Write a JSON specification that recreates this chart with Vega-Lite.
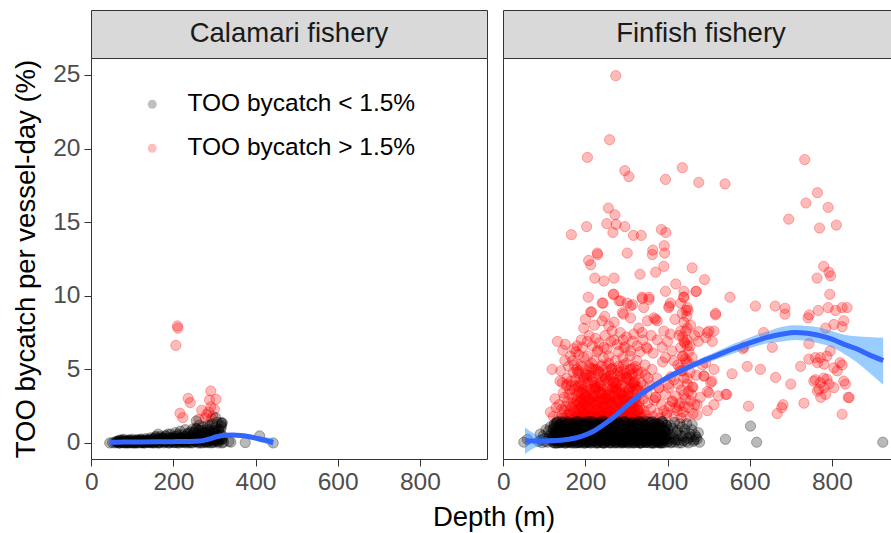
{
  "$schema": "https://vega.github.io/schema/vega-lite/v6.json",
  "padding": {"left": 12, "top": 9, "right": 0, "bottom": 0},
  "background": "white",
  "title": {"text": "Depth (m)", "orient": "bottom", "anchor": "middle", "frame": "group", "font": "Liberation Sans", "fontSize": 27.5, "fontWeight": "normal", "color": "#000000", "offset": 10, "dx": 403},
  "config": {
    "font": "Liberation Sans",
    "axis": {"labelFont": "Liberation Sans", "labelFontSize": 24.5, "labelColor": "#4D4D4D", "titleFont": "Liberation Sans", "titleFontSize": 27.5, "titleFontWeight": "normal", "titleColor": "#000000", "tickColor": "#333333", "tickSize": 7, "tickWidth": 1, "domain": false, "grid": false, "labelPadding": 3, "labelFlush": false},
    "legend": {"labelFont": "Liberation Sans", "labelFontSize": 24.5, "labelColor": "#000000", "labelLimit": 0, "symbolSize": 80, "symbolOpacity": 0.25, "symbolStrokeWidth": 0, "rowPadding": 19, "labelOffset": 23, "padding": 0}
  },
  "datasets": {
    "strip1": [{"lab": "Calamari fishery"}],
    "strip2": [{"lab": "Finfish fishery"}],
    "calLo": [{"d":45,"v":0},{"d":52,"v":0.02},{"d":58,"v":0},{"d":60,"v":0.1},{"d":63,"v":0.05},{"d":68,"v":0},{"d":72,"v":0.1},{"d":75,"v":0.05},{"d":77,"v":0.02},{"d":81,"v":0},{"d":85,"v":0.08},{"d":88,"v":0.02},{"d":90,"v":0.15},{"d":93,"v":0},{"d":97,"v":0.05},{"d":100,"v":0},{"d":101,"v":0.12},{"d":104,"v":0},{"d":108,"v":0.2},{"d":111,"v":0.04},{"d":112,"v":0.15},{"d":115,"v":0.1},{"d":118,"v":0},{"d":121,"v":0.25},{"d":124,"v":0.06},{"d":125,"v":0.02},{"d":127,"v":0.15},{"d":130,"v":0},{"d":133,"v":0.3},{"d":136,"v":0.08},{"d":138,"v":0.1},{"d":139,"v":0.18},{"d":142,"v":0.02},{"d":145,"v":0.35},{"d":148,"v":0.1},{"d":150,"v":0.05},{"d":151,"v":0.22},{"d":154,"v":0},{"d":157,"v":0.4},{"d":160,"v":0.12},{"d":162,"v":0},{"d":163,"v":0.28},{"d":166,"v":0.05},{"d":169,"v":0.45},{"d":172,"v":0.15},{"d":175,"v":0.3},{"d":175,"v":0.1},{"d":178,"v":0},{"d":181,"v":0.5},{"d":184,"v":0.2},{"d":187,"v":0.35},{"d":188,"v":0.2},{"d":190,"v":0.08},{"d":193,"v":0.6},{"d":195,"v":0.05},{"d":196,"v":0.25},{"d":199,"v":0.4},{"d":200,"v":0.15},{"d":202,"v":0.02},{"d":205,"v":0.7},{"d":208,"v":0.3},{"d":211,"v":0.5},{"d":212,"v":0},{"d":214,"v":0.1},{"d":215,"v":0.3},{"d":217,"v":0.8},{"d":220,"v":0.35},{"d":223,"v":0.55},{"d":225,"v":0.2},{"d":226,"v":0.05},{"d":229,"v":0.9},{"d":230,"v":0.1},{"d":232,"v":0.4},{"d":235,"v":0.65},{"d":237,"v":0.05},{"d":238,"v":0.15},{"d":240,"v":0.45},{"d":241,"v":0.75},{"d":244,"v":0.3},{"d":245,"v":0},{"d":247,"v":0.95},{"d":248,"v":0.2},{"d":250,"v":0.5},{"d":250,"v":0.75},{"d":253,"v":0.1},{"d":255,"v":0.3},{"d":256,"v":1.0},{"d":256,"v":1.5},{"d":259,"v":0.6},{"d":260,"v":0},{"d":260,"v":0.85},{"d":262,"v":0.25},{"d":265,"v":0.85},{"d":265,"v":0.1},{"d":268,"v":0.4},{"d":270,"v":0.6},{"d":271,"v":1.1},{"d":272,"v":0.2},{"d":274,"v":0.05},{"d":277,"v":0.7},{"d":280,"v":0.3},{"d":280,"v":0.02},{"d":283,"v":1.2},{"d":285,"v":0.1},{"d":285,"v":0.8},{"d":286,"v":0.55},{"d":289,"v":0.9},{"d":290,"v":0.4},{"d":292,"v":0.15},{"d":295,"v":1.3},{"d":295,"v":0.2},{"d":297,"v":0.02},{"d":298,"v":0.65},{"d":300,"v":0.2},{"d":301,"v":1.0},{"d":303,"v":1.72},{"d":304,"v":0.35},{"d":305,"v":0.6},{"d":307,"v":1.4},{"d":308,"v":0.1},{"d":310,"v":0.8},{"d":310,"v":0.45},{"d":313,"v":0.2},{"d":315,"v":0.9},{"d":316,"v":1.35},{"d":318,"v":0.25},{"d":318,"v":1.34},{"d":319,"v":0.5},{"d":319,"v":1.38},{"d":322,"v":0.05},{"d":335,"v":0.1},{"d":340,"v":0.05},{"d":375,"v":0.03},{"d":410,"v":0.48},{"d":443,"v":0},
      {"d":62,"v":0.05},{"d":66,"v":0.15},{"d":70,"v":0},{"d":74,"v":0.2},{"d":78,"v":0.1},{"d":82,"v":0.18},{"d":86,"v":0.02},{"d":90,"v":0.12},{"d":94,"v":0.2},{"d":98,"v":0.06},{"d":102,"v":0.05},{"d":106,"v":0.15},{"d":110,"v":0},{"d":114,"v":0.2},{"d":118,"v":0.1},{"d":122,"v":0.18},{"d":126,"v":0.02},{"d":130,"v":0.12},{"d":134,"v":0.2},{"d":138,"v":0.06},{"d":142,"v":0.05},{"d":146,"v":0.15},{"d":150,"v":0},{"d":154,"v":0.3},{"d":158,"v":0.1},{"d":162,"v":0.25},{"d":166,"v":0.02},{"d":170,"v":0.15},{"d":174,"v":0.35},{"d":178,"v":0.08},{"d":182,"v":0.05},{"d":186,"v":0.2},{"d":190,"v":0},{"d":194,"v":0.3},{"d":198,"v":0.1},{"d":202,"v":0.25},{"d":206,"v":0.02},{"d":210,"v":0.15},{"d":214,"v":0.35},{"d":218,"v":0.08},{"d":222,"v":0.05},{"d":226,"v":0.2},{"d":230,"v":0},{"d":234,"v":0.3},{"d":238,"v":0.1},{"d":242,"v":0.25},{"d":246,"v":0.02},{"d":250,"v":0.15},{"d":254,"v":0.35},{"d":258,"v":0.08},{"d":262,"v":0.5},{"d":266,"v":0.2},{"d":270,"v":0},{"d":274,"v":0.45},{"d":278,"v":0.1},{"d":282,"v":0.6},{"d":286,"v":0.02},{"d":290,"v":0.25},{"d":294,"v":0.75},{"d":298,"v":0.08},{"d":302,"v":0.4},{"d":306,"v":0.2},{"d":310,"v":0},{"d":314,"v":0.6},{"d":317,"v":1.1},{"d":320,"v":0.3},
      {"d":64,"v":0.1},{"d":67,"v":0},{"d":70,"v":0.2},{"d":73,"v":0.05},{"d":76,"v":0.15},{"d":79,"v":0.25},{"d":82,"v":0.02},{"d":85,"v":0.1},{"d":88,"v":0},{"d":91,"v":0.2},{"d":94,"v":0.05},{"d":97,"v":0.15},{"d":100,"v":0.25},{"d":103,"v":0.02},{"d":106,"v":0.1},{"d":109,"v":0},{"d":112,"v":0.2},{"d":115,"v":0.05},{"d":118,"v":0.15},{"d":121,"v":0.25},{"d":124,"v":0.02},{"d":127,"v":0.1},{"d":130,"v":0},{"d":133,"v":0.2},{"d":136,"v":0.05},{"d":139,"v":0.15},{"d":142,"v":0.25},{"d":145,"v":0.02},{"d":148,"v":0.1},
      {"d":151,"v":0.3},{"d":154,"v":0.05},{"d":157,"v":0.45},{"d":160,"v":0.15},{"d":163,"v":0.6},{"d":166,"v":0},{"d":169,"v":0.35},{"d":172,"v":0.2},{"d":175,"v":0.3},{"d":178,"v":0.05},{"d":181,"v":0.45},{"d":184,"v":0.15},{"d":187,"v":0.6},{"d":190,"v":0},{"d":193,"v":0.35},{"d":196,"v":0.2},{"d":199,"v":0.3},{"d":202,"v":0.05},{"d":205,"v":0.45},{"d":208,"v":0.15},{"d":211,"v":0.6},{"d":214,"v":0},{"d":217,"v":0.35},{"d":220,"v":0.2},{"d":223,"v":0.3},{"d":226,"v":0.05},{"d":229,"v":0.45},{"d":232,"v":0.15},{"d":235,"v":0.6},{"d":238,"v":0},{"d":241,"v":0.35},{"d":244,"v":0.2},{"d":247,"v":0.3},
      {"d":250,"v":0.7},{"d":253,"v":0.1},{"d":256,"v":0.95},{"d":259,"v":0.3},{"d":262,"v":1.2},{"d":265,"v":0},{"d":268,"v":0.5},{"d":271,"v":0.85},{"d":274,"v":0.2},{"d":277,"v":0.7},{"d":280,"v":0.1},{"d":283,"v":0.95},{"d":286,"v":0.3},{"d":289,"v":1.2},{"d":292,"v":0},{"d":295,"v":0.5},{"d":298,"v":0.85},{"d":301,"v":0.2},{"d":304,"v":0.7},{"d":307,"v":0.1},{"d":310,"v":0.95},{"d":313,"v":0.3},{"d":316,"v":1.2},{"d":319,"v":0}],
    "calHi": [{"d":210,"v":7.95},{"d":211,"v":7.8},{"d":206,"v":6.63},{"d":236,"v":3.03},{"d":241,"v":2.74},{"d":216,"v":2.02},{"d":223,"v":1.72},{"d":269,"v":2.22},{"d":291,"v":3.53},{"d":288,"v":2.92},{"d":304,"v":2.97},{"d":291,"v":2.45},{"d":281,"v":1.95},{"d":278,"v":1.7},{"d":286,"v":2.1},{"d":296,"v":1.8},{"d":300,"v":2.3},{"d":262,"v":1.6},{"d":293,"v":1.65}],
    "finLo": [{"d":50,"v":0.05},{"d":59,"v":0.25},{"d":541,"v":0.25},{"d":602,"v":1.15},{"d":617,"v":0.05},{"d":924,"v":0.05},{"d":86,"v":0.1},{"d":90,"v":0.6},{"d":95,"v":0.02},{"d":100,"v":0.3},{"d":104,"v":0.9},{"d":108,"v":0.05},{"d":112,"v":0.45},{"d":115,"v":1.1},{"d":118,"v":0.15},{"d":92,"v":0.2},{"d":98,"v":0.5},{"d":103,"v":0.1},{"d":110,"v":0.8},{"d":114,"v":0.3},{"d":117,"v":0.6},
      {"d":120,"v":0.05},{"d":121,"v":0.9},{"d":123,"v":0.4},{"d":124,"v":1.3},{"d":126,"v":0.15},{"d":127,"v":0.7},{"d":129,"v":1.1},{"d":130,"v":0},{"d":132,"v":0.55},{"d":133,"v":1.45},{"d":135,"v":0.25},{"d":136,"v":0.85},{"d":138,"v":0.02},{"d":139,"v":1.2},{"d":141,"v":0.6},{"d":142,"v":0.35},{"d":144,"v":1.0},{"d":145,"v":0.1},{"d":147,"v":1.4},{"d":148,"v":0.75},{"d":150,"v":0.2},{"d":151,"v":0.5},{"d":153,"v":1.25},{"d":154,"v":0},{"d":156,"v":0.95},{"d":157,"v":0.45},{"d":159,"v":1.35},{"d":160,"v":0.3},{"d":162,"v":0.65},{"d":163,"v":0.08},
      {"d":165,"v":0.05},{"d":166,"v":0.9},{"d":168,"v":0.4},{"d":169,"v":1.3},{"d":171,"v":0.15},{"d":172,"v":0.7},{"d":174,"v":1.1},{"d":175,"v":0},{"d":177,"v":0.55},{"d":178,"v":1.45},{"d":180,"v":0.25},{"d":181,"v":0.85},{"d":183,"v":0.02},{"d":184,"v":1.2},{"d":186,"v":0.6},{"d":187,"v":0.35},{"d":189,"v":1.0},{"d":190,"v":0.1},{"d":192,"v":1.4},{"d":193,"v":0.75},{"d":195,"v":0.2},{"d":196,"v":0.5},{"d":198,"v":1.25},{"d":199,"v":0},{"d":201,"v":0.95},{"d":202,"v":0.45},{"d":204,"v":1.35},{"d":205,"v":0.3},{"d":207,"v":0.65},{"d":208,"v":0.08},
      {"d":210,"v":0.7},{"d":211,"v":0},{"d":213,"v":1.15},{"d":214,"v":0.3},{"d":216,"v":1.45},{"d":217,"v":0.5},{"d":219,"v":0.1},{"d":220,"v":0.9},{"d":222,"v":1.3},{"d":223,"v":0.2},{"d":225,"v":0.6},{"d":226,"v":1.05},{"d":228,"v":0},{"d":229,"v":0.4},{"d":231,"v":1.4},{"d":232,"v":0.8},{"d":234,"v":0.15},{"d":235,"v":1.2},{"d":237,"v":0.35},{"d":238,"v":0.95},{"d":240,"v":0.05},{"d":241,"v":1.5},{"d":243,"v":0.55},{"d":244,"v":0.25},{"d":246,"v":1.1},{"d":247,"v":0},{"d":249,"v":0.85},{"d":250,"v":0.45},{"d":252,"v":1.3},{"d":253,"v":0.12},
      {"d":255,"v":0.9},{"d":256,"v":1.3},{"d":258,"v":0.2},{"d":259,"v":0.6},{"d":261,"v":1.05},{"d":262,"v":0},{"d":264,"v":0.4},{"d":265,"v":1.4},{"d":267,"v":0.8},{"d":268,"v":0.15},{"d":270,"v":1.2},{"d":271,"v":0.35},{"d":273,"v":0.95},{"d":274,"v":0.05},{"d":276,"v":1.5},{"d":277,"v":0.55},{"d":279,"v":0.25},{"d":280,"v":1.1},{"d":282,"v":0},{"d":283,"v":0.85},{"d":285,"v":0.45},{"d":286,"v":1.3},{"d":288,"v":0.12},{"d":289,"v":0.7},{"d":291,"v":0},{"d":292,"v":1.15},{"d":294,"v":0.3},{"d":295,"v":1.45},{"d":297,"v":0.5},{"d":298,"v":0.1},
      {"d":300,"v":0.08},{"d":301,"v":0.65},{"d":303,"v":0.3},{"d":304,"v":1.35},{"d":306,"v":0.45},{"d":307,"v":0.95},{"d":309,"v":0},{"d":310,"v":1.25},{"d":312,"v":0.5},{"d":313,"v":0.2},{"d":315,"v":0.75},{"d":316,"v":1.4},{"d":318,"v":0.1},{"d":319,"v":1.0},{"d":321,"v":0.35},{"d":322,"v":0.6},{"d":324,"v":1.2},{"d":325,"v":0.02},{"d":327,"v":0.85},{"d":328,"v":0.25},{"d":330,"v":1.45},{"d":331,"v":0.55},{"d":333,"v":0},{"d":334,"v":1.1},{"d":336,"v":0.7},{"d":337,"v":0.15},{"d":339,"v":1.3},{"d":340,"v":0.4},{"d":342,"v":0.9},{"d":343,"v":0.05},
      {"d":345,"v":0.25},{"d":346,"v":0.85},{"d":348,"v":0.02},{"d":349,"v":1.2},{"d":351,"v":0.6},{"d":352,"v":0.35},{"d":354,"v":1.0},{"d":355,"v":0.1},{"d":357,"v":1.4},{"d":358,"v":0.75},{"d":360,"v":0.2},{"d":361,"v":0.5},{"d":363,"v":1.25},{"d":364,"v":0},{"d":366,"v":0.95},{"d":367,"v":0.45},{"d":369,"v":1.35},{"d":370,"v":0.3},{"d":372,"v":0.65},{"d":373,"v":0.08},{"d":375,"v":0.05},{"d":376,"v":0.9},{"d":378,"v":0.4},{"d":379,"v":1.3},{"d":381,"v":0.15},{"d":382,"v":0.7},{"d":384,"v":1.1},{"d":385,"v":0},{"d":387,"v":0.55},{"d":388,"v":1.45},{"d":390,"v":0.25},{"d":392,"v":0},{"d":394,"v":0.8},{"d":396,"v":0.35},{"d":398,"v":1.2},
      {"d":402,"v":0.1},{"d":405,"v":0.6},{"d":408,"v":0},{"d":412,"v":1.0},{"d":415,"v":0.3},{"d":418,"v":0.05},{"d":422,"v":0.7},{"d":426,"v":0.2},{"d":430,"v":1.3},{"d":434,"v":0},{"d":438,"v":0.45},{"d":442,"v":0.9},{"d":446,"v":0.1},{"d":450,"v":0.3},{"d":455,"v":0.6},{"d":460,"v":1.25},{"d":465,"v":0.2},{"d":470,"v":0.4},{"d":475,"v":0.7},{"d":478,"v":0.05},
      {"d":125,"v":0},{"d":140,"v":0.02},{"d":155,"v":0.05},{"d":170,"v":0},{"d":185,"v":0.03},{"d":200,"v":0},{"d":215,"v":0.05},{"d":230,"v":0.02},{"d":245,"v":0},{"d":260,"v":0.03},{"d":275,"v":0},{"d":290,"v":0.05},{"d":305,"v":0},{"d":320,"v":0.02},{"d":335,"v":0},{"d":350,"v":0.04},{"d":365,"v":0},{"d":380,"v":0.02},
      {"d":121,"v":0.3},{"d":123,"v":1.0},{"d":125,"v":0.0},{"d":127,"v":0.6},{"d":129,"v":1.35},{"d":131,"v":0.15},{"d":133,"v":0.8},{"d":135,"v":0.45},{"d":137,"v":1.2},{"d":139,"v":0.05},{"d":141,"v":0.7},{"d":143,"v":1.45},{"d":145,"v":0.25},{"d":147,"v":0.95},{"d":149,"v":0.0},{"d":151,"v":0.55},{"d":153,"v":1.1},{"d":155,"v":0.35},{"d":157,"v":1.3},{"d":159,"v":0.1},
      {"d":161,"v":0.3},{"d":163,"v":1.0},{"d":165,"v":0.0},{"d":167,"v":0.6},{"d":169,"v":1.35},{"d":171,"v":0.15},{"d":173,"v":0.8},{"d":175,"v":0.45},{"d":177,"v":1.2},{"d":179,"v":0.05},{"d":181,"v":0.7},{"d":183,"v":1.45},{"d":185,"v":0.25},{"d":187,"v":0.95},{"d":189,"v":0.0},{"d":191,"v":0.55},{"d":193,"v":1.1},{"d":195,"v":0.35},{"d":197,"v":1.3},{"d":199,"v":0.1},
      {"d":201,"v":0.45},{"d":203,"v":1.2},{"d":205,"v":0.05},{"d":207,"v":0.7},{"d":209,"v":1.45},{"d":211,"v":0.25},{"d":213,"v":0.95},{"d":215,"v":0.0},{"d":217,"v":0.55},{"d":219,"v":1.1},{"d":221,"v":0.35},{"d":223,"v":1.3},{"d":225,"v":0.1},{"d":227,"v":0.3},{"d":229,"v":1.0},{"d":231,"v":0.0},{"d":233,"v":0.6},{"d":235,"v":1.35},{"d":237,"v":0.15},{"d":239,"v":0.8},
      {"d":241,"v":0.95},{"d":243,"v":0.0},{"d":245,"v":0.55},{"d":247,"v":1.1},{"d":249,"v":0.35},{"d":251,"v":1.3},{"d":253,"v":0.1},{"d":255,"v":0.3},{"d":257,"v":1.0},{"d":259,"v":0.0},{"d":261,"v":0.6},{"d":263,"v":1.35},{"d":265,"v":0.15},{"d":267,"v":0.8},{"d":269,"v":0.45},{"d":271,"v":1.2},{"d":273,"v":0.05},{"d":275,"v":0.7},{"d":277,"v":1.45},{"d":279,"v":0.25},
      {"d":281,"v":1.35},{"d":283,"v":0.15},{"d":285,"v":0.8},{"d":287,"v":0.45},{"d":289,"v":1.2},{"d":291,"v":0.05},{"d":293,"v":0.7},{"d":295,"v":1.45},{"d":297,"v":0.25},{"d":299,"v":0.95},{"d":301,"v":0.0},{"d":303,"v":0.55},{"d":305,"v":1.1},{"d":307,"v":0.35},{"d":309,"v":1.3},{"d":311,"v":0.1},{"d":313,"v":0.3},{"d":315,"v":1.0},{"d":317,"v":0.0},{"d":319,"v":0.6},
      {"d":321,"v":1.1},{"d":323,"v":0.35},{"d":325,"v":1.3},{"d":327,"v":0.1},{"d":329,"v":0.3},{"d":331,"v":1.0},{"d":333,"v":0.0},{"d":335,"v":0.6},{"d":337,"v":1.35},{"d":339,"v":0.15},{"d":341,"v":0.8},{"d":343,"v":0.45},{"d":345,"v":1.2},{"d":347,"v":0.05},{"d":349,"v":0.7},{"d":351,"v":1.45},{"d":353,"v":0.25},{"d":355,"v":0.95},{"d":357,"v":0.0},{"d":359,"v":0.55},
      {"d":361,"v":0.7},{"d":363,"v":1.45},{"d":365,"v":0.25},{"d":367,"v":0.95},{"d":369,"v":0.0},{"d":371,"v":0.55},{"d":373,"v":1.1},{"d":375,"v":0.35},{"d":377,"v":1.3},{"d":379,"v":0.1},{"d":381,"v":0.3},{"d":383,"v":1.0},{"d":385,"v":0.0},{"d":387,"v":0.6},{"d":389,"v":1.35},{"d":391,"v":0.15},{"d":393,"v":0.8},{"d":395,"v":0.45},{"d":397,"v":1.2},{"d":399,"v":0.05},
      {"d":401,"v":0.9},{"d":404,"v":0.3},{"d":407,"v":1.2},{"d":410,"v":0.05},{"d":413,"v":0.6},{"d":417,"v":1.4},{"d":420,"v":0.2},{"d":424,"v":0.85},{"d":427,"v":0.0},{"d":431,"v":0.5},{"d":435,"v":1.1},{"d":439,"v":0.15},{"d":443,"v":0.65},{"d":447,"v":1.3},{"d":451,"v":0.0},{"d":455,"v":0.4},{"d":459,"v":0.9},{"d":463,"v":0.1},{"d":467,"v":0.55},{"d":472,"v":0.25},
      {"d":122,"v":0.5},{"d":124,"v":1.15},{"d":126,"v":0.2},{"d":128,"v":0.85},{"d":130,"v":1.4},{"d":132,"v":0.0},{"d":134,"v":0.65},{"d":136,"v":1.05},{"d":138,"v":0.3},{"d":140,"v":1.3},{"d":142,"v":0.1},{"d":144,"v":0.75},{"d":146,"v":0.45},{"d":148,"v":1.2},{"d":150,"v":0.0},{"d":152,"v":0.95},{"d":154,"v":0.6},{"d":156,"v":1.45},{"d":158,"v":0.25},{"d":160,"v":0.05},{"d":162,"v":1.0},{"d":164,"v":0.4},{"d":166,"v":0.8},
      {"d":168,"v":0.5},{"d":170,"v":1.15},{"d":172,"v":0.2},{"d":174,"v":0.85},{"d":176,"v":1.4},{"d":178,"v":0.0},{"d":180,"v":0.65},{"d":182,"v":1.05},{"d":184,"v":0.3},{"d":186,"v":1.3},{"d":188,"v":0.1},{"d":190,"v":0.75},{"d":192,"v":0.45},{"d":194,"v":1.2},{"d":196,"v":0.0},{"d":198,"v":0.95},{"d":200,"v":0.6},{"d":202,"v":1.45},{"d":204,"v":0.25},{"d":206,"v":0.05},{"d":208,"v":1.0},{"d":210,"v":0.4},{"d":212,"v":0.8},
      {"d":214,"v":0.5},{"d":216,"v":1.15},{"d":218,"v":0.2},{"d":220,"v":0.85},{"d":222,"v":1.4},{"d":224,"v":0.0},{"d":226,"v":0.65},{"d":228,"v":1.05},{"d":230,"v":0.3},{"d":232,"v":1.3},{"d":234,"v":0.1},{"d":236,"v":0.75},{"d":238,"v":0.45},{"d":240,"v":1.2},{"d":242,"v":0.0},{"d":244,"v":0.95},{"d":246,"v":0.6},{"d":248,"v":1.45},{"d":250,"v":0.25},{"d":252,"v":0.05},{"d":254,"v":1.0},{"d":256,"v":0.4},{"d":258,"v":0.8},
      {"d":260,"v":0.5},{"d":262,"v":1.15},{"d":264,"v":0.2},{"d":266,"v":0.85},{"d":268,"v":1.4},{"d":270,"v":0.0},{"d":272,"v":0.65},{"d":274,"v":1.05},{"d":276,"v":0.3},{"d":278,"v":1.3},{"d":280,"v":0.1},{"d":282,"v":0.75},{"d":284,"v":0.45},{"d":286,"v":1.2},{"d":288,"v":0.0},{"d":290,"v":0.95},{"d":292,"v":0.6},{"d":294,"v":1.45},{"d":296,"v":0.25},{"d":298,"v":0.05},{"d":300,"v":1.0},{"d":302,"v":0.4},{"d":304,"v":0.8},
      {"d":306,"v":0.5},{"d":308,"v":1.15},{"d":310,"v":0.2},{"d":312,"v":0.85},{"d":314,"v":1.4},{"d":316,"v":0.0},{"d":318,"v":0.65},{"d":320,"v":1.05},{"d":322,"v":0.3},{"d":324,"v":1.3},{"d":326,"v":0.1},{"d":328,"v":0.75},{"d":330,"v":0.45},{"d":332,"v":1.2},{"d":334,"v":0.0},{"d":336,"v":0.95},{"d":338,"v":0.6},{"d":340,"v":1.45},{"d":342,"v":0.25},{"d":344,"v":0.05},{"d":346,"v":1.0},{"d":348,"v":0.4},{"d":350,"v":0.8},
      {"d":352,"v":0.5},{"d":354,"v":1.15},{"d":356,"v":0.2},{"d":358,"v":0.85},{"d":360,"v":1.4},{"d":362,"v":0.0},{"d":364,"v":0.65},{"d":366,"v":1.05},{"d":368,"v":0.3},{"d":370,"v":1.3},{"d":372,"v":0.1},{"d":374,"v":0.75},{"d":376,"v":0.45},{"d":378,"v":1.2},{"d":380,"v":0.0},{"d":382,"v":0.95},{"d":384,"v":0.6},{"d":386,"v":1.45},{"d":388,"v":0.25},{"d":390,"v":0.05},{"d":392,"v":1.0},{"d":394,"v":0.4},{"d":396,"v":0.8},{"d":398,"v":0.5}],
    "finHi": [
      {"d":175,"v":2.1},{"d":176,"v":4.3},{"d":177,"v":1.7},{"d":178,"v":3.2},{"d":179,"v":5.0},{"d":180,"v":2.6},{"d":181,"v":1.55},{"d":182,"v":3.8},{"d":183,"v":2.3},{"d":184,"v":4.7},{"d":185,"v":1.9},{"d":186,"v":3.5},{"d":187,"v":2.8},{"d":188,"v":1.6},{"d":189,"v":4.1},{"d":190,"v":2.45},{"d":191,"v":3.0},{"d":192,"v":5.2},{"d":193,"v":1.8},{"d":194,"v":3.65},{"d":195,"v":2.2},{"d":196,"v":4.5},{"d":197,"v":1.65},{"d":198,"v":2.9},{"d":199,"v":3.35},
      {"d":200,"v":2.3},{"d":201,"v":4.7},{"d":202,"v":1.9},{"d":203,"v":3.5},{"d":204,"v":2.8},{"d":205,"v":1.6},{"d":206,"v":4.1},{"d":207,"v":2.45},{"d":208,"v":3.0},{"d":209,"v":5.2},{"d":210,"v":1.8},{"d":211,"v":3.65},{"d":212,"v":2.2},{"d":213,"v":4.5},{"d":214,"v":1.65},{"d":215,"v":2.9},{"d":216,"v":3.35},{"d":217,"v":2.1},{"d":218,"v":4.3},{"d":219,"v":1.7},{"d":220,"v":3.2},{"d":221,"v":5.0},{"d":222,"v":2.6},{"d":223,"v":1.55},{"d":224,"v":3.8},
      {"d":225,"v":3.2},{"d":226,"v":5.0},{"d":227,"v":2.6},{"d":228,"v":1.55},{"d":229,"v":3.8},{"d":230,"v":2.3},{"d":231,"v":4.7},{"d":232,"v":1.9},{"d":233,"v":3.5},{"d":234,"v":2.8},{"d":235,"v":1.6},{"d":236,"v":4.1},{"d":237,"v":2.45},{"d":238,"v":3.0},{"d":239,"v":5.2},{"d":240,"v":1.8},{"d":241,"v":3.65},{"d":242,"v":2.2},{"d":243,"v":4.5},{"d":244,"v":1.65},{"d":245,"v":2.9},{"d":246,"v":3.35},{"d":247,"v":2.1},{"d":248,"v":4.3},{"d":249,"v":1.7},
      {"d":250,"v":2.45},{"d":251,"v":3.0},{"d":252,"v":5.2},{"d":253,"v":1.8},{"d":254,"v":3.65},{"d":255,"v":2.2},{"d":256,"v":4.5},{"d":257,"v":1.65},{"d":258,"v":2.9},{"d":259,"v":3.35},{"d":260,"v":2.1},{"d":261,"v":4.3},{"d":262,"v":1.7},{"d":263,"v":3.2},{"d":264,"v":5.0},{"d":265,"v":2.6},{"d":266,"v":1.55},{"d":267,"v":3.8},{"d":268,"v":2.3},{"d":269,"v":4.7},{"d":270,"v":1.9},{"d":271,"v":3.5},{"d":272,"v":2.8},{"d":273,"v":1.6},{"d":274,"v":4.1},
      {"d":275,"v":3.5},{"d":276,"v":2.8},{"d":277,"v":1.6},{"d":278,"v":4.1},{"d":279,"v":2.45},{"d":280,"v":3.0},{"d":281,"v":5.2},{"d":282,"v":1.8},{"d":283,"v":3.65},{"d":284,"v":2.2},{"d":285,"v":4.5},{"d":286,"v":1.65},{"d":287,"v":2.9},{"d":288,"v":3.35},{"d":289,"v":2.1},{"d":290,"v":4.3},{"d":291,"v":1.7},{"d":292,"v":3.2},{"d":293,"v":5.0},{"d":294,"v":2.6},{"d":295,"v":1.55},{"d":296,"v":3.8},{"d":297,"v":2.3},{"d":298,"v":4.7},{"d":299,"v":1.9},
      {"d":300,"v":2.2},{"d":301,"v":4.5},{"d":302,"v":1.65},{"d":303,"v":2.9},{"d":304,"v":3.35},{"d":305,"v":2.1},{"d":306,"v":4.3},{"d":307,"v":1.7},{"d":308,"v":3.2},{"d":309,"v":5.0},{"d":310,"v":2.6},{"d":311,"v":1.55},{"d":312,"v":3.8},{"d":313,"v":2.3},{"d":314,"v":4.7},{"d":315,"v":1.9},{"d":316,"v":3.5},{"d":317,"v":2.8},{"d":318,"v":1.6},{"d":319,"v":4.1},{"d":320,"v":2.45},{"d":321,"v":3.0},{"d":322,"v":5.2},{"d":323,"v":1.8},{"d":324,"v":3.65},
      {"d":325,"v":2.6},{"d":326,"v":1.55},{"d":327,"v":3.8},{"d":328,"v":2.3},{"d":329,"v":4.7},{"d":330,"v":1.9},
      {"d":160,"v":1.6},{"d":163,"v":2.5},{"d":166,"v":1.9},{"d":169,"v":3.1},{"d":172,"v":2.2},{"d":175,"v":1.55},{"d":178,"v":2.8},{"d":181,"v":2.0},{"d":184,"v":3.4},{"d":187,"v":1.75},{"d":190,"v":2.35},{"d":193,"v":2.95},{"d":196,"v":1.65},{"d":199,"v":2.65},{"d":202,"v":3.2},{"d":205,"v":1.85},{"d":208,"v":2.15},{"d":211,"v":1.6},{"d":214,"v":2.5},{"d":217,"v":1.9},{"d":220,"v":3.1},{"d":223,"v":2.2},{"d":226,"v":1.55},{"d":229,"v":2.8},{"d":232,"v":2.0},{"d":235,"v":3.4},{"d":238,"v":1.75},{"d":241,"v":2.35},{"d":244,"v":2.95},{"d":247,"v":1.65},{"d":250,"v":2.65},{"d":253,"v":3.2},{"d":256,"v":1.85},{"d":259,"v":2.15},{"d":262,"v":1.6},{"d":265,"v":2.5},{"d":268,"v":1.9},{"d":271,"v":3.1},{"d":274,"v":2.2},{"d":277,"v":1.55},{"d":280,"v":2.8},{"d":283,"v":2.0},{"d":286,"v":3.4},{"d":289,"v":1.75},{"d":292,"v":2.35},{"d":295,"v":2.95},{"d":298,"v":1.65},{"d":301,"v":2.65},{"d":304,"v":3.2},{"d":307,"v":1.85},{"d":310,"v":2.15},{"d":313,"v":1.6},{"d":316,"v":2.5},{"d":319,"v":1.9},{"d":322,"v":3.1},{"d":325,"v":2.2},{"d":328,"v":1.55},{"d":331,"v":2.8},{"d":334,"v":2.0},{"d":337,"v":3.4},{"d":340,"v":1.75},
      {"d":185,"v":2.7},{"d":188,"v":1.7},{"d":191,"v":4.0},{"d":194,"v":2.1},{"d":197,"v":3.3},{"d":200,"v":1.6},{"d":203,"v":4.6},{"d":206,"v":2.4},{"d":209,"v":3.0},{"d":212,"v":1.9},{"d":215,"v":5.4},{"d":218,"v":2.9},{"d":221,"v":1.75},{"d":224,"v":3.7},{"d":227,"v":2.7},{"d":230,"v":1.7},{"d":233,"v":4.0},{"d":236,"v":2.1},{"d":239,"v":3.3},{"d":242,"v":1.6},{"d":245,"v":4.6},{"d":248,"v":2.4},{"d":251,"v":3.0},{"d":254,"v":1.9},{"d":257,"v":5.4},{"d":260,"v":2.9},{"d":263,"v":1.75},{"d":266,"v":3.7},{"d":269,"v":2.7},{"d":272,"v":1.7},{"d":275,"v":4.0},{"d":278,"v":2.1},{"d":281,"v":3.3},{"d":284,"v":1.6},{"d":287,"v":4.6},{"d":290,"v":2.4},{"d":293,"v":3.0},{"d":296,"v":1.9},{"d":299,"v":5.4},{"d":302,"v":2.9},{"d":305,"v":1.75},{"d":308,"v":3.7},{"d":311,"v":2.7},{"d":314,"v":1.7},{"d":317,"v":4.0},{"d":320,"v":2.1},
      {"d":176,"v":3.9},{"d":179,"v":1.8},{"d":181,"v":2.9},{"d":184,"v":4.9},{"d":186,"v":2.2},{"d":189,"v":1.6},{"d":191,"v":3.4},{"d":194,"v":2.6},{"d":196,"v":5.8},{"d":199,"v":1.95},{"d":201,"v":3.1},{"d":204,"v":4.4},{"d":206,"v":2.35},{"d":209,"v":1.7},{"d":211,"v":3.6},{"d":214,"v":2.75},{"d":216,"v":5.0},{"d":219,"v":2.05},{"d":221,"v":4.1},{"d":224,"v":3.9},{"d":226,"v":1.8},{"d":229,"v":2.9},{"d":231,"v":4.9},{"d":234,"v":2.2},{"d":236,"v":1.6},{"d":239,"v":3.4},{"d":241,"v":2.6},{"d":244,"v":5.8},{"d":246,"v":1.95},{"d":249,"v":3.1},{"d":251,"v":4.4},{"d":254,"v":2.35},{"d":256,"v":1.7},{"d":259,"v":3.6},{"d":261,"v":2.75},{"d":264,"v":5.0},{"d":266,"v":2.05},{"d":269,"v":4.1},{"d":271,"v":3.9},{"d":274,"v":1.8},{"d":276,"v":2.9},{"d":279,"v":4.9},{"d":281,"v":2.2},{"d":284,"v":1.6},{"d":286,"v":3.4},{"d":289,"v":2.6},{"d":291,"v":5.8},{"d":294,"v":1.95},{"d":296,"v":3.1},{"d":299,"v":4.4},{"d":301,"v":2.35},{"d":304,"v":1.7},{"d":306,"v":3.6},{"d":309,"v":2.75},{"d":311,"v":5.0},{"d":314,"v":2.05},{"d":316,"v":4.1},{"d":319,"v":3.9},{"d":321,"v":1.8},{"d":324,"v":2.9},{"d":326,"v":4.9},{"d":329,"v":2.2},
      {"d":142,"v":2.3},{"d":146,"v":1.7},{"d":149,"v":3.1},{"d":153,"v":2.5},{"d":155,"v":4.4},{"d":158,"v":1.9},{"d":160,"v":3.3},{"d":163,"v":2.0},{"d":166,"v":3.9},{"d":168,"v":1.6},{"d":171,"v":2.7},{"d":173,"v":5.3},{"d":150,"v":5.6},{"d":144,"v":4.1},
      {"d":165,"v":4.2},{"d":169,"v":5.6},{"d":173,"v":3.6},{"d":177,"v":6.2},{"d":181,"v":4.8},{"d":185,"v":3.9},{"d":189,"v":5.3},{"d":193,"v":6.5},{"d":197,"v":4.4},{"d":201,"v":3.7},{"d":205,"v":5.9},{"d":209,"v":4.6},{"d":213,"v":5.1},{"d":217,"v":4.2},{"d":221,"v":5.6},{"d":225,"v":3.6},{"d":229,"v":6.2},{"d":233,"v":4.8},{"d":237,"v":3.9},{"d":241,"v":5.3},{"d":245,"v":6.5},{"d":249,"v":4.4},{"d":253,"v":3.7},{"d":257,"v":5.9},{"d":261,"v":4.6},{"d":265,"v":5.1},{"d":269,"v":4.2},{"d":273,"v":5.6},{"d":277,"v":3.6},{"d":281,"v":6.2},{"d":285,"v":4.8},{"d":289,"v":3.9},{"d":293,"v":5.3},{"d":297,"v":6.5},{"d":301,"v":4.4},{"d":305,"v":3.7},{"d":309,"v":5.9},{"d":313,"v":4.6},{"d":317,"v":5.1},{"d":321,"v":4.2},{"d":325,"v":5.6},{"d":329,"v":3.6},{"d":333,"v":6.2},{"d":337,"v":4.8},{"d":341,"v":3.9},{"d":345,"v":5.3},{"d":349,"v":6.5},{"d":353,"v":4.4},
      {"d":332,"v":2.4},{"d":335,"v":4.1},{"d":338,"v":1.7},{"d":341,"v":3.0},{"d":343,"v":2.2},{"d":346,"v":4.6},{"d":348,"v":1.9},{"d":350,"v":3.4},{"d":352,"v":2.7},{"d":355,"v":1.6},{"d":357,"v":3.9},{"d":359,"v":2.3},{"d":362,"v":5.0},{"d":365,"v":1.8},{"d":368,"v":2.9},{"d":371,"v":3.1},{"d":374,"v":4.4},{"d":376,"v":2.0},{"d":379,"v":3.75},{"d":382,"v":1.7},{"d":385,"v":2.6},{"d":388,"v":5.5},{"d":391,"v":2.2},{"d":395,"v":3.3},{"d":398,"v":1.9},{"d":402,"v":4.0},{"d":405,"v":2.5},
      {"d":115,"v":2.1},{"d":119,"v":5.0},{"d":122,"v":1.8},{"d":126,"v":3.0},{"d":129,"v":2.4},{"d":133,"v":1.6},{"d":136,"v":2.6},{"d":138,"v":4.2},{"d":140,"v":4.9},{"d":143,"v":1.9},{"d":146,"v":3.4},{"d":148,"v":2.2},{"d":151,"v":6.7},{"d":152,"v":1.7},{"d":154,"v":3.9},{"d":156,"v":4.0},{"d":157,"v":2.8},{"d":159,"v":5.2},{"d":161,"v":2.1},{"d":162,"v":3.6},{"d":164,"v":5.9},{"d":167,"v":2.4},{"d":170,"v":4.8},{"d":172,"v":6.4},{"d":184,"v":6.0},{"d":145,"v":6.3},{"d":132,"v":6.9},
      {"d":196,"v":7.8},{"d":209,"v":7.3},{"d":217,"v":6.6},{"d":233,"v":6.8},{"d":241,"v":8.3},{"d":253,"v":6.4},{"d":257,"v":7.95},{"d":265,"v":7.6},{"d":278,"v":6.7},{"d":294,"v":6.5},{"d":310,"v":6.25},{"d":326,"v":6.6},{"d":330,"v":7.8},{"d":338,"v":7.5},{"d":351,"v":8.3},{"d":351,"v":6.4},{"d":371,"v":8.4},{"d":375,"v":7.0},{"d":387,"v":6.5},{"d":395,"v":5.8},{"d":411,"v":6.25},{"d":213,"v":8.9},{"d":241,"v":9.5},{"d":269,"v":10.1},{"d":282,"v":9.65},{"d":302,"v":9.5},{"d":310,"v":9.3},{"d":338,"v":9.9},{"d":355,"v":9.9},{"d":342,"v":9.2},{"d":367,"v":8.5},{"d":375,"v":8.3},{"d":290,"v":8.85},{"d":310,"v":8.5},{"d":225,"v":7.1},{"d":248,"v":7.3},{"d":270,"v":7.0},{"d":285,"v":7.5},{"d":300,"v":7.2},{"d":318,"v":7.4},{"d":230,"v":6.3},{"d":262,"v":6.9},{"d":292,"v":7.0},{"d":315,"v":6.9},{"d":205,"v":6.9},{"d":190,"v":7.0},{"d":180,"v":6.6},{"d":270,"v":8.2},{"d":247,"v":8.6},{"d":222,"v":8.0},{"d":340,"v":7.0},{"d":360,"v":7.3},{"d":365,"v":6.1},{"d":200,"v":8.4},
      {"d":274,"v":24.95},{"d":259,"v":20.6},{"d":205,"v":19.4},{"d":296,"v":18.5},{"d":306,"v":18.1},{"d":436,"v":18.7},{"d":395,"v":17.9},{"d":476,"v":17.7},{"d":540,"v":17.6},{"d":734,"v":19.25},{"d":765,"v":17.0},{"d":737,"v":16.3},{"d":791,"v":16.0},{"d":695,"v":15.2},{"d":770,"v":14.6},{"d":811,"v":14.8},{"d":256,"v":15.96},{"d":272,"v":15.5},{"d":275,"v":14.85},{"d":252,"v":14.9},{"d":203,"v":14.7},{"d":166,"v":14.15},{"d":267,"v":14.3},{"d":296,"v":14.7},{"d":317,"v":14.1},{"d":336,"v":14.1},{"d":385,"v":14.5},{"d":396,"v":14.3},{"d":392,"v":13.4},{"d":393,"v":12.9},{"d":364,"v":13.1},{"d":302,"v":12.9},{"d":229,"v":12.9},{"d":230,"v":12.8},{"d":208,"v":12.4},{"d":363,"v":12.8},{"d":213,"v":12.1},{"d":223,"v":11.2},{"d":245,"v":11.0},{"d":270,"v":11.2},{"d":333,"v":11.46},{"d":371,"v":11.6},{"d":391,"v":12.0},{"d":460,"v":11.9},{"d":490,"v":11.1},{"d":420,"v":10.8},{"d":440,"v":10.3},{"d":469,"v":10.3},{"d":395,"v":10.3},{"d":207,"v":9.9},{"d":268,"v":10.1},{"d":243,"v":9.5},{"d":286,"v":9.65},{"d":315,"v":9.4},{"d":339,"v":9.8},{"d":355,"v":9.75},{"d":404,"v":9.3},{"d":445,"v":9.0},{"d":517,"v":8.8},{"d":552,"v":9.9},{"d":614,"v":9.3},{"d":662,"v":9.3},{"d":686,"v":9.15},{"d":686,"v":8.75},{"d":215,"v":8.9},{"d":293,"v":8.75},
      {"d":432,"v":9.5},{"d":436,"v":8.8},{"d":440,"v":8.2},{"d":444,"v":7.6},{"d":448,"v":7.0},{"d":432,"v":6.5},{"d":452,"v":6.2},{"d":438,"v":5.9},{"d":446,"v":5.5},{"d":430,"v":5.1},{"d":455,"v":4.8},{"d":440,"v":4.4},{"d":448,"v":4.0},{"d":434,"v":3.6},{"d":458,"v":3.3},{"d":444,"v":3.0},{"d":430,"v":2.7},{"d":452,"v":2.4},{"d":438,"v":2.1},{"d":446,"v":1.8},{"d":456,"v":8.0},{"d":428,"v":7.3},{"d":442,"v":6.8},{"d":450,"v":9.0},{"d":436,"v":4.9},{"d":460,"v":5.8},{"d":426,"v":4.0},{"d":462,"v":3.8},{"d":424,"v":2.2},{"d":466,"v":2.6},{"d":420,"v":3.2},{"d":470,"v":4.6},{"d":415,"v":5.6},{"d":475,"v":6.9},{"d":418,"v":8.4},{"d":466,"v":7.3},{"d":412,"v":2.8},{"d":472,"v":1.9},{"d":408,"v":4.5},{"d":480,"v":3.1},{"d":400,"v":6.9},{"d":485,"v":5.3},{"d":448,"v":4.4},{"d":443,"v":5.7},{"d":437,"v":7.2},{"d":451,"v":3.5},{"d":441,"v":2.5},{"d":433,"v":1.7},{"d":447,"v":8.6},{"d":439,"v":9.9},{"d":416,"v":1.8},{"d":428,"v":2.5},{"d":462,"v":2.0},{"d":455,"v":6.6},{"d":425,"v":5.3},
      {"d":448,"v":6.6},{"d":436,"v":5.9},{"d":452,"v":5.45},{"d":432,"v":4.9},{"d":460,"v":3.8},{"d":440,"v":3.3},{"d":456,"v":2.85},{"d":472,"v":2.6},{"d":489,"v":4.55},{"d":513,"v":5.0},{"d":493,"v":5.45},{"d":505,"v":4.1},{"d":497,"v":3.5},{"d":513,"v":2.6},{"d":416,"v":4.3},{"d":403,"v":3.75},{"d":411,"v":2.85},{"d":420,"v":2.4},{"d":399,"v":2.05},{"d":379,"v":3.75},{"d":371,"v":3.1},{"d":403,"v":9.2},{"d":407,"v":9.5},{"d":440,"v":9.9},{"d":448,"v":9.2},{"d":391,"v":7.6},{"d":407,"v":7.4},{"d":432,"v":7.6},{"d":440,"v":6.9},{"d":448,"v":7.8},{"d":497,"v":7.5},{"d":513,"v":7.6},{"d":517,"v":8.7},
      {"d":501,"v":7.6},{"d":476,"v":7.56},{"d":634,"v":7.5},{"d":655,"v":6.5},{"d":583,"v":6.4},{"d":594,"v":5.2},{"d":626,"v":5.0},{"d":557,"v":4.7},{"d":508,"v":4.2},{"d":488,"v":4.55},{"d":542,"v":3.3},{"d":524,"v":3.2},{"d":501,"v":3.4},{"d":497,"v":2.2},{"d":597,"v":2.5},{"d":667,"v":2.0},{"d":681,"v":2.6},{"d":732,"v":2.7},{"d":700,"v":4.0},{"d":724,"v":5.2},{"d":744,"v":6.75},{"d":742,"v":8.5},{"d":745,"v":8.7},{"d":767,"v":9.0},{"d":780,"v":12.0},{"d":793,"v":11.6},{"d":797,"v":11.35},{"d":764,"v":11.2},{"d":795,"v":10.1},{"d":791,"v":9.2},{"d":809,"v":9.0},{"d":825,"v":9.2},{"d":837,"v":9.2},{"d":829,"v":8.3},{"d":825,"v":7.9},{"d":785,"v":7.8},{"d":744,"v":5.7},{"d":825,"v":5.3},{"d":833,"v":4.0},{"d":760,"v":4.3},{"d":780,"v":4.4},{"d":793,"v":4.0},{"d":769,"v":3.65},{"d":773,"v":3.1},{"d":840,"v":3.1},{"d":825,"v":1.95},{"d":663,"v":4.45},{"d":678,"v":2.4},{"d":493,"v":7.15},{"d":509,"v":6.9},{"d":586,"v":6.5},{"d":544,"v":3.3},{"d":760,"v":5.8},{"d":772,"v":5.8},{"d":788,"v":5.9},{"d":796,"v":6.25},{"d":765,"v":5.45},{"d":781,"v":5.35},{"d":820,"v":5.45},{"d":813,"v":4.9},{"d":805,"v":5.1},{"d":756,"v":4.2},{"d":772,"v":4.1},{"d":788,"v":4.33},{"d":781,"v":3.76},{"d":805,"v":3.76},{"d":829,"v":4.2},{"d":765,"v":3.53},{"d":785,"v":3.3},{"d":842,"v":3.08},{"d":805,"v":8.05},{"d":470,"v":10.3}
    ],
    "calFit": [{"d":45,"v":0.05,"lo":-0.1,"hi":0.2},{"d":80,"v":0.06,"lo":-0.02,"hi":0.14},{"d":120,"v":0.07,"lo":0.02,"hi":0.12},{"d":160,"v":0.08,"lo":0.04,"hi":0.12},{"d":200,"v":0.09,"lo":0.05,"hi":0.13},{"d":240,"v":0.1,"lo":0.06,"hi":0.14},{"d":265,"v":0.13,"lo":0.08,"hi":0.18},{"d":285,"v":0.25,"lo":0.19,"hi":0.31},{"d":305,"v":0.42,"lo":0.35,"hi":0.49},{"d":325,"v":0.52,"lo":0.43,"hi":0.61},{"d":345,"v":0.54,"lo":0.43,"hi":0.65},{"d":365,"v":0.5,"lo":0.37,"hi":0.63},{"d":385,"v":0.42,"lo":0.27,"hi":0.57},{"d":405,"v":0.3,"lo":0.12,"hi":0.48},{"d":425,"v":0.17,"lo":-0.05,"hi":0.39},{"d":443,"v":0.03,"lo":-0.25,"hi":0.31}],
    "finFit": [{"d":53,"v":0.15,"lo":-0.75,"hi":1.05},{"d":75,"v":0.14,"lo":-0.35,"hi":0.65},{"d":100,"v":0.14,"lo":-0.1,"hi":0.4},{"d":130,"v":0.16,"lo":0.0,"hi":0.32},{"d":160,"v":0.25,"lo":0.12,"hi":0.38},{"d":190,"v":0.45,"lo":0.33,"hi":0.57},{"d":220,"v":0.8,"lo":0.68,"hi":0.92},{"d":250,"v":1.35,"lo":1.22,"hi":1.48},{"d":280,"v":2.0,"lo":1.85,"hi":2.15},{"d":310,"v":2.75,"lo":2.6,"hi":2.9},{"d":340,"v":3.4,"lo":3.25,"hi":3.55},{"d":370,"v":3.95,"lo":3.78,"hi":4.12},{"d":400,"v":4.45,"lo":4.27,"hi":4.63},{"d":440,"v":5.0,"lo":4.8,"hi":5.2},{"d":480,"v":5.5,"lo":5.27,"hi":5.73},{"d":520,"v":5.95,"lo":5.68,"hi":6.22},{"d":560,"v":6.4,"lo":6.08,"hi":6.72},{"d":600,"v":6.8,"lo":6.43,"hi":7.17},{"d":640,"v":7.15,"lo":6.75,"hi":7.55},{"d":680,"v":7.4,"lo":6.9,"hi":7.9},{"d":710,"v":7.5,"lo":7.0,"hi":8.0},{"d":740,"v":7.45,"lo":6.95,"hi":7.95},{"d":770,"v":7.3,"lo":6.75,"hi":7.85},{"d":800,"v":7.05,"lo":6.5,"hi":7.6},{"d":830,"v":6.7,"lo":6.05,"hi":7.35},{"d":860,"v":6.4,"lo":5.5,"hi":7.25},{"d":890,"v":6.0,"lo":4.8,"hi":7.2},{"d":925,"v":5.6,"lo":3.95,"hi":7.15}]
  },
  "spacing": 7,
  "resolve": {"scale": {"color": "independent"}, "legend": {"color": "independent"}},
  "hconcat": [
    {
      "spacing": 0,
      "bounds": "flush",
      "resolve": {"scale": {"color": "independent"}, "legend": {"color": "independent"}},
      "vconcat": [
        {
          "width": 396, "height": 48,
          "view": {"fill": "#D9D9D9", "stroke": "#333333", "strokeWidth": 1},
          "data": {"name": "strip1"},
          "mark": {"type": "text", "fontSize": 27.5, "color": "#1A1A1A", "font": "Liberation Sans"},
          "encoding": {"text": {"field": "lab"}}
        },
        {
          "width": 396, "height": 401,
          "view": {"stroke": "#333333", "strokeWidth": 1, "fill": "white"},
          "layer": [
            {
              "data": {"name": "calHi"},
              "mark": {"type": "point", "filled": true, "size": 105, "fillOpacity": 0.27, "stroke": "#FF0000", "strokeOpacity": 0.3, "strokeWidth": 1},
              "encoding": {
                "x": {"field": "d", "type": "quantitative", "scale": {"domain": [-0.5, 963.5], "nice": false, "zero": false}, "axis": {"values": [0, 200, 400, 600, 800], "title": null, "labelPadding": 4}},
                "y": {"field": "v", "type": "quantitative", "scale": {"domain": [-1.09, 26.15], "nice": false, "zero": false}, "axis": {"values": [0, 5, 10, 15, 20, 25], "title": "TOO bycatch per vessel-day (%)", "titlePadding": 12, "labelPadding": 4}},
                "color": {"datum": "TOO bycatch > 1.5%", "type": "nominal", "scale": {"domain": ["TOO bycatch < 1.5%", "TOO bycatch > 1.5%"], "range": ["#000000", "#FF0000"]}, "legend": {"title": null, "orient": "none", "legendX": 49, "legendY": 34}}
              }
            },
            {
              "data": {"name": "calLo"},
              "mark": {"type": "point", "filled": true, "size": 105, "fillOpacity": 0.27, "stroke": "#000000", "strokeOpacity": 0.3, "strokeWidth": 1},
              "encoding": {
                "x": {"field": "d", "type": "quantitative", "title": null},
                "y": {"field": "v", "type": "quantitative", "title": "TOO bycatch per vessel-day (%)"},
                "color": {"datum": "TOO bycatch < 1.5%", "type": "nominal"}
              }
            },
            {
              "data": {"name": "calFit"},
              "mark": {"type": "area", "color": "#1E90FF", "opacity": 0.45, "interpolate": "monotone"},
              "encoding": {
                "x": {"field": "d", "type": "quantitative", "title": null},
                "y": {"field": "lo", "type": "quantitative", "title": "TOO bycatch per vessel-day (%)"},
                "y2": {"field": "hi"}
              }
            },
            {
              "data": {"name": "calFit"},
              "mark": {"type": "line", "color": "#3366FF", "strokeWidth": 5, "interpolate": "monotone"},
              "encoding": {
                "x": {"field": "d", "type": "quantitative", "title": null},
                "y": {"field": "v", "type": "quantitative", "title": "TOO bycatch per vessel-day (%)"}
              }
            }
          ]
        }
      ]
    },
    {
      "spacing": 0,
      "bounds": "flush",
      "vconcat": [
        {
          "width": 388, "height": 48,
          "view": {"fill": "#D9D9D9", "stroke": "#333333", "strokeWidth": 1},
          "data": {"name": "strip2"},
          "mark": {"type": "text", "fontSize": 27.5, "color": "#1A1A1A", "font": "Liberation Sans", "dx": 4},
          "encoding": {"text": {"field": "lab"}}
        },
        {
          "width": 388, "height": 401,
          "view": {"stroke": "#333333", "strokeWidth": 1, "fill": "white"},
          "layer": [
            {
              "data": {"name": "finHi"},
              "mark": {"type": "point", "filled": true, "size": 105, "fill": "#FF0000", "fillOpacity": 0.27, "stroke": "#FF0000", "strokeOpacity": 0.3, "strokeWidth": 1},
              "encoding": {
                "x": {"field": "d", "type": "quantitative", "scale": {"domain": [-0.5, 944], "nice": false, "zero": false}, "axis": {"values": [0, 200, 400, 600, 800], "title": null, "labelPadding": 4}},
                "y": {"field": "v", "type": "quantitative", "scale": {"domain": [-1.09, 26.15], "nice": false, "zero": false}, "axis": null}
              }
            },
            {
              "data": {"name": "finLo"},
              "mark": {"type": "point", "filled": true, "size": 105, "fill": "#000000", "fillOpacity": 0.27, "stroke": "#000000", "strokeOpacity": 0.3, "strokeWidth": 1},
              "encoding": {
                "x": {"field": "d", "type": "quantitative", "title": null},
                "y": {"field": "v", "type": "quantitative"}
              }
            },
            {
              "data": {"name": "finFit"},
              "mark": {"type": "area", "color": "#1E90FF", "opacity": 0.45, "interpolate": "monotone"},
              "encoding": {
                "x": {"field": "d", "type": "quantitative", "title": null},
                "y": {"field": "lo", "type": "quantitative"},
                "y2": {"field": "hi"}
              }
            },
            {
              "data": {"name": "finFit"},
              "mark": {"type": "line", "color": "#3366FF", "strokeWidth": 5, "interpolate": "monotone"},
              "encoding": {
                "x": {"field": "d", "type": "quantitative", "title": null},
                "y": {"field": "v", "type": "quantitative"}
              }
            }
          ]
        }
      ]
    }
  ]
}
